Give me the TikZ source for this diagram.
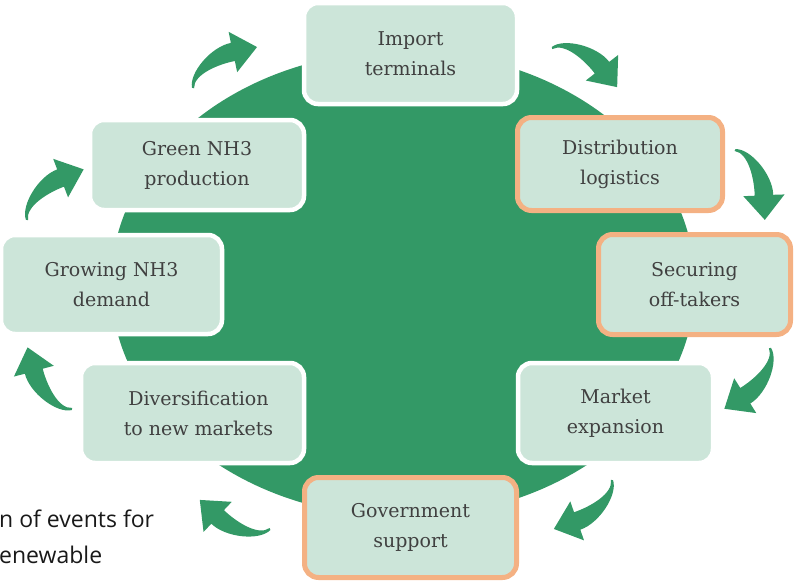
\documentclass[tikz,border=0pt]{standalone}
\usepackage{fontspec}
\newfontfamily\boxfont{DejaVu Serif}
\newfontfamily\capfont{Open Sans}
\definecolor{ringgreen}{HTML}{339966}
\definecolor{boxfill}{HTML}{CCE5D9}
\definecolor{accent}{HTML}{F4B183}
\definecolor{textgray}{HTML}{404040}
\tikzset{
  stepbox/.style={rectangle, rounded corners=14pt, fill=boxfill, draw=white,
    line width=4.5pt, inner sep=0pt, align=center, text=textgray,
    font=\boxfont\fontsize{19}{30}\selectfont},
  keybox/.style={draw=accent, line width=5pt},
  bend arrow/.pic={
    \fill[ringgreen] (0.7,-0.8) .. controls (8,11.5) and (34.9,6.1) .. (49.8,0.2)
      -- (45.7,-10.5) -- (76,0) -- (60.3,28.1) -- (56.2,17.6)
      .. controls (37.5,25) and (5,15) .. (-0.7,0.8) -- cycle;
  }
}
\begin{document}
\begin{tikzpicture}[x=1pt, y=1pt]
\useasboundingbox (0,0) rectangle (795,-581);

% central disc
\fill[ringgreen] (403,-284) ellipse [x radius=292, y radius=233];

% curved arrows running clockwise between the steps
\pic[rotate=32.6]  at (193,-88)  {bend arrow};
\pic[rotate=-31.0] at (552,-48)  {bend arrow};
\pic[rotate=-66.9] at (735,-150) {bend arrow};
\pic[rotate=-126.9] at (770,-348) {bend arrow};
\pic[rotate=-139.9] at (612,-480) {bend arrow};
\pic[rotate=157.5] at (270,-529) {bend arrow};
\pic[rotate=125.8] at (72,-409)  {bend arrow};
\pic[rotate=41.8]  at (27,-220)  {bend arrow};

% steps of the cycle
\node[stepbox, minimum width=213pt, minimum height=101pt] (imp) at (410.5,-53.5) {Import\\terminals};
\node[stepbox, keybox, minimum width=205pt, minimum height=93pt] (dist) at (620,-164) {Distribution\\logistics};
\node[stepbox, keybox, minimum width=192pt, minimum height=100pt] (sec) at (694.5,-284.5) {Securing\\off-takers};
\node[stepbox, minimum width=195pt, minimum height=100pt] (mkt) at (615.5,-413) {Market\\expansion};
\node[stepbox, keybox, minimum width=212pt, minimum height=100pt] (gov) at (410.5,-527.5) {Government\\support};
\node[stepbox, minimum width=223pt, minimum height=100pt] (div) at (192.5,-413) {\hspace*{12pt}Diversification\\\hspace*{12pt}to new markets};
\node[stepbox, minimum width=221pt, minimum height=99pt] (grow) at (111.5,-284.5) {Growing NH3\\demand};
\node[stepbox, minimum width=214pt, minimum height=90pt] (prod) at (197,-165) {Green NH3\\production};

% caption fragment
\node[anchor=base west, align=left, inner sep=0pt, text=black!90,
      font=\capfont\fontsize{23}{36}\selectfont] (cap) at (-1,-563) {n of events for\\enewable};
\end{tikzpicture}
\end{document}
